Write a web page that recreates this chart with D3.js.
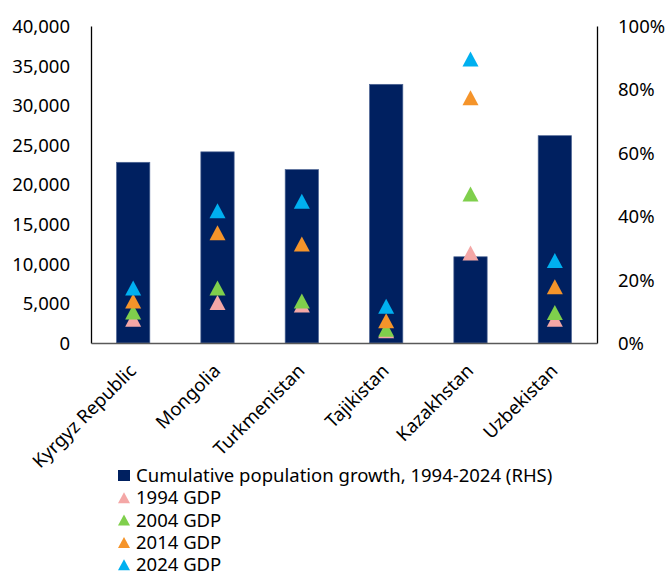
<!DOCTYPE html>
<html>
<head>
<meta charset="utf-8">
<style>
  body { margin: 0; background: #ffffff; }
  svg text { font-family: "Noto Sans", "Open Sans", sans-serif; fill: #000; }
  .tick text { font-size: 18.5px; }
  .legend text { font-size: 18.5px; }
</style>
</head>
<body>
<svg id="chart" width="666" height="572"></svg>
<script src="https://cdn.jsdelivr.net/npm/d3@7"></script>
<script>
// categories
var countries = ["Kyrgyz Republic", "Mongolia", "Turkmenistan", "Tajikistan", "Kazakhstan", "Uzbekistan"];
// cumulative population growth 1994-2024, % (right axis)
var popGrowth = [57.0, 60.3, 54.7, 81.6, 27.2, 65.4];
// GDP per year (left axis)
var gdp1994 = [3000, 5100, 4800, 1550, 11350, 3000];
var gdp2004 = [3900, 6950, 5300, 1750, 18800, 3850];
var gdp2014 = [5300, 13900, 12500, 2800, 30950, 7100];
var gdp2024 = [6950, 16700, 17900, 4650, 35850, 10400];

var leftTicks = [0, 5000, 10000, 15000, 20000, 25000, 30000, 35000, 40000];
var rightTicks = [0, 20, 40, 60, 80, 100];

var series = [
    {name: "1994 GDP", values: gdp1994, color: "#f4a7a6"},
    {name: "2004 GDP", values: gdp2004, color: "#7fcf4c"},
    {name: "2014 GDP", values: gdp2014, color: "#f5942a"},
    {name: "2024 GDP", values: gdp2024, color: "#00b0f0"}
];
var barLabel = "Cumulative population growth, 1994-2024 (RHS)";
var barColor = "#002060";

var svg = d3.select("#chart");
var plotL = 91, plotR = 597, plotT = 26, plotB = 343;

var x = d3.scaleBand().domain(countries).range([plotL, plotR])
    .paddingInner(0.605).paddingOuter(0.3025);
var yL = d3.scaleLinear().domain([0, 40000]).range([plotB, plotT]);
var yR = d3.scaleLinear().domain([0, 100]).range([plotB, plotT]);

// bars
svg.append("g").selectAll("rect")
    .data(countries)
    .enter().append("rect")
    .attr("x", function(d) { return x(d); })
    .attr("width", x.bandwidth())
    .attr("y", function(d, i) { return yR(popGrowth[i]); })
    .attr("height", function(d, i) { return plotB - yR(popGrowth[i]); })
    .attr("fill", barColor)
    .attr("stroke", "#4d6594")
    .attr("stroke-width", 0.7);

// triangle markers
function tri(w, h) {
    return "M0," + (-h / 2) + "L" + (w / 2) + "," + (h / 2) + "L" + (-w / 2) + "," + (h / 2) + "Z";
}
series.forEach(function(s) {
    svg.append("g").selectAll("path")
        .data(countries)
        .enter().append("path")
        .attr("d", tri(16, 15))
        .attr("transform", function(d, i) {
            return "translate(" + (x(d) + x.bandwidth() / 2) + "," + yL(s.values[i]) + ")";
        })
        .attr("fill", s.color);
});

// axes
var axL = svg.append("g").attr("transform", "translate(" + plotL + ",0)")
    .call(d3.axisLeft(yL).tickValues(leftTicks).tickSize(0).tickPadding(21)
        .tickFormat(d3.format(",")));
axL.select(".domain").attr("stroke", "#000").attr("stroke-width", 1.3);

var axR = svg.append("g").attr("transform", "translate(" + plotR + ",0)")
    .call(d3.axisRight(yR).tickValues(rightTicks).tickSize(0).tickPadding(21)
        .tickFormat(function(d) { return d + "%"; }));
axR.select(".domain").attr("stroke", "#000").attr("stroke-width", 1.3);

svg.selectAll(".tick text").attr("dy", "0.35em");

var axX = svg.append("g").attr("transform", "translate(0," + plotB + ")")
    .call(d3.axisBottom(x).tickSize(0).tickPadding(0));
axX.select(".domain").attr("stroke", "#595959").attr("stroke-width", 1.5);
axX.selectAll(".tick text")
    .style("font-size", "18.5px")
    .attr("text-anchor", "end")
    .attr("dy", 0)
    .attr("y", 0)
    .attr("transform", "translate(4,29) rotate(-45)");

// legend
var lg = svg.append("g").attr("class", "legend");
var lx = 124, ly0 = 475.5, lstep = 22.3;
lg.append("rect").attr("x", lx - 6).attr("y", ly0 - 5.5).attr("width", 12).attr("height", 11)
    .attr("fill", barColor);
lg.append("text").attr("x", 136).attr("y", ly0).attr("dy", "0.35em").text(barLabel);
series.forEach(function(s, i) {
    var yy = ly0 + (i + 1) * lstep;
    lg.append("path").attr("d", tri(12, 11))
        .attr("transform", "translate(" + lx + "," + yy + ")")
        .attr("fill", s.color);
    lg.append("text").attr("x", 136).attr("y", yy).attr("dy", "0.35em").text(s.name);
});
</script>
</body>
</html>
